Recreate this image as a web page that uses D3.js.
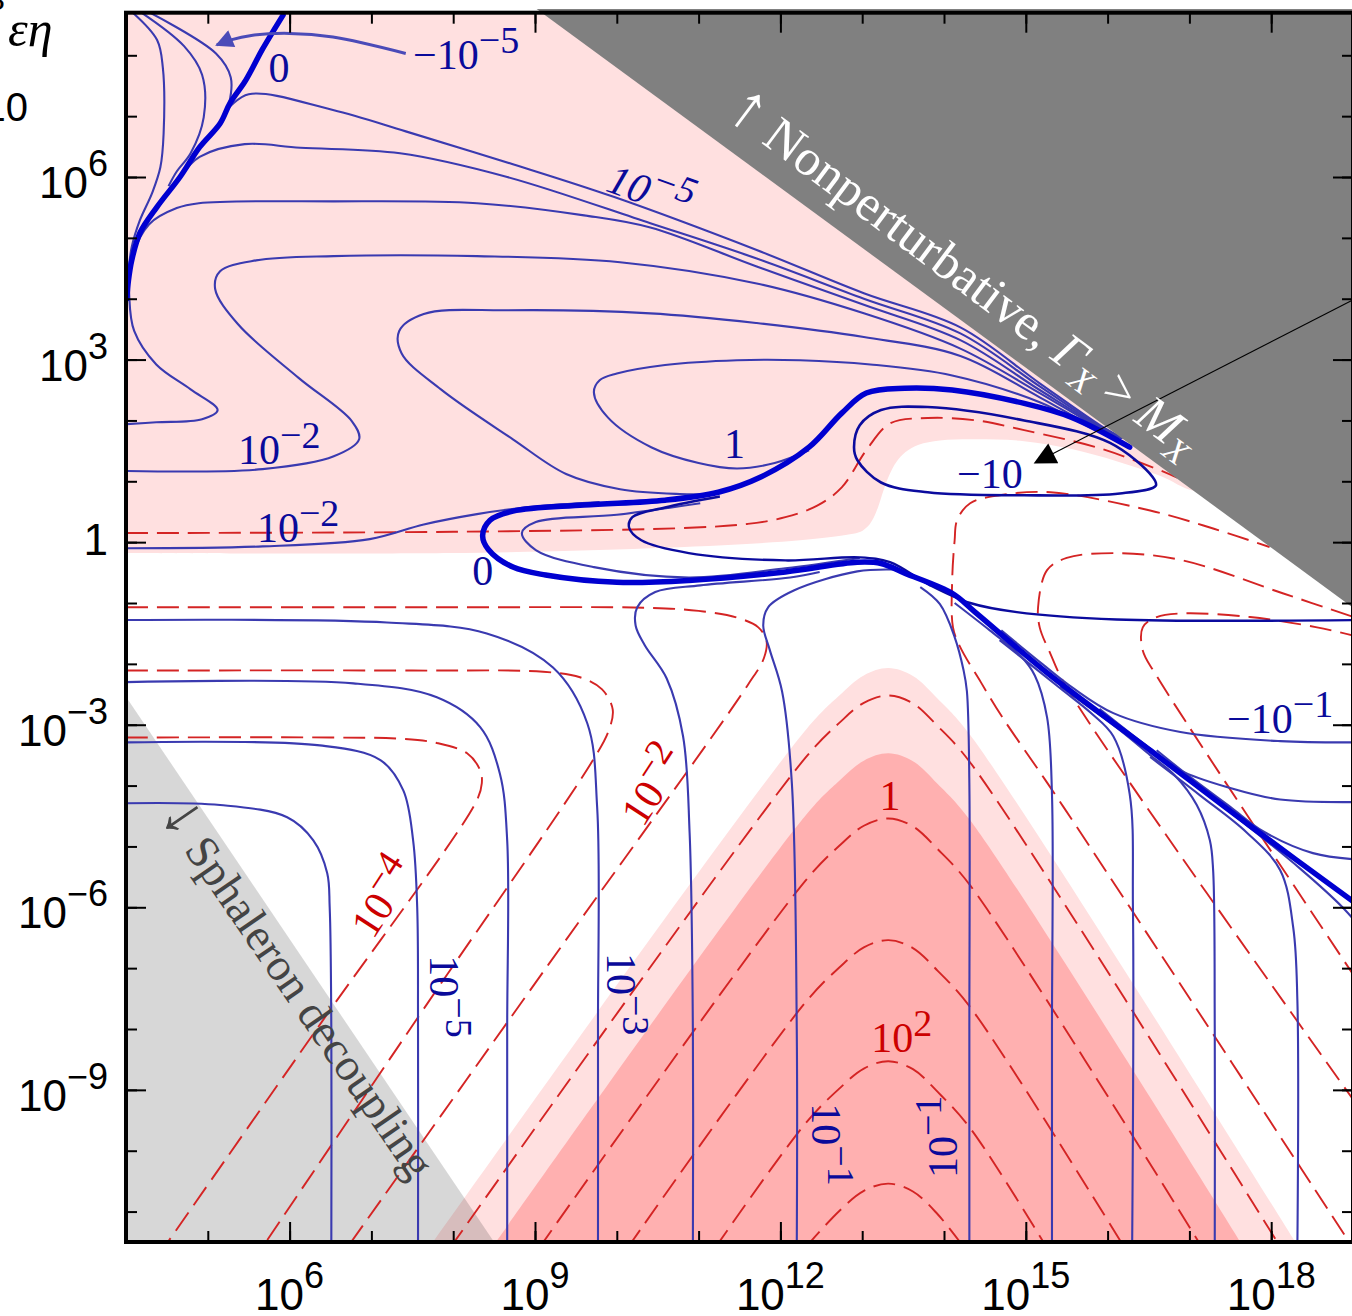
<!DOCTYPE html>
<html><head><meta charset="utf-8">
<script src="https://cdn.jsdelivr.net/npm/d3@7"></script>
<style>body{margin:0;background:#fff} svg{display:block}</style>
</head><body>
<svg id="chart" width="1352" height="1316"></svg>
<script>
// ---------- DATA (x = log10 of abscissa, y = log10 of ordinate) ----------
const X_DOMAIN = [4, 19];
const Y_DOMAIN = [-11.5, 8.7];
const xMajorTicks = [6, 9, 12, 15, 18];
const xMinorTicks = [5,6,7,8,9,10,11,12,13,14,15,16,17,18];
const yMajorTicks = [-9, -6, -3, 0, 3, 6];
const yMinorTicks = [-11,-10,-9,-8,-7,-6,-5,-4,-3,-2,-1,0,1,2,3,4,5,6,7,8];
const xTickLabels = [["10","6"],["10","9"],["10","12"],["10","15"],["10","18"]];
const yTickLabels = [["10","−9"],["10","−6"],["10","−3"],["1",""],["10","3"],["10","6"]];

// shaded regions
const nonpertRegion = [[9.02,8.76],[19.5,8.76],[19.5,-1.57]];
const sphaleronRegion = [[4,-2.54],[8.50,-11.5],[4,-11.5]];
const pinkUpper = [[4,8.8],[12,8.8],[17.6,0.9],[17.07,0.84],[16.64,1.09],[16.11,1.33],[15.56,1.53],[14.98,1.66],[14.39,1.69],[13.95,1.67],[13.69,1.60],[13.53,1.48],[13.42,1.32],[13.33,1.10],[13.26,0.85],[13.20,0.60],[13.14,0.40],[13.07,0.26],[12.98,0.17],[12.85,0.13],[12.24,0.03],[10.41,-0.10],[7.96,-0.18],[4,-0.18]];
const pinkLight = [[7.70,-11.6],[12.32,-3.07],[12.72,-2.52],[13.02,-2.19],[13.32,-2.07],[13.62,-2.20],[13.92,-2.57],[14.32,-3.17],[18.34,-11.6]];
const pinkDark = [[8.47,-11.6],[12.32,-4.47],[12.72,-3.92],[13.02,-3.59],[13.32,-3.47],[13.62,-3.60],[13.92,-3.97],[14.32,-4.57],[17.67,-11.6]];

// red dashed contours
const redR1 = [[4,0.15],[8,0.17],[10.77,0.23],[11.6,0.30],[12.06,0.41],[12.45,0.60],[12.75,0.90],[13.05,1.51],[13.34,1.95],[13.80,2.04],[14.4,2.0],[14.98,1.84],[15.86,1.56],[16.55,1.23],[16.85,1.06]];
const redR2 = [[4,-1.07],[8,-1.07],[10.4,-1.08],[11.0,-1.13],[11.47,-1.24],[11.73,-1.40],[11.83,-1.62],[11.80,-1.90],[11.6,-2.35],[9.17,-6.93],[6.70,-11.6]];
const redR3 = [[4,-2.11],[7.5,-2.11],[9.10,-2.13],[9.55,-2.22],[9.82,-2.42],[9.95,-2.75],[9.90,-3.1],[9.70,-3.6],[7.7,-7.55],[5.66,-11.6]];
const redR4 = [[4,-3.21],[6.5,-3.21],[7.35,-3.23],[7.80,-3.30],[8.17,-3.47],[8.33,-3.75],[8.35,-3.96],[8.29,-4.24],[6.4,-7.87],[4.46,-11.6]];
const redL0 = [[7.96,-11.6],[12.32,-3.52],[12.72,-2.97],[13.02,-2.64],[13.32,-2.52],[13.62,-2.65],[13.92,-3.02],[14.32,-3.62],[18.12,-11.6]];
const redL1 = [[9.05,-11.6],[12.32,-5.54],[12.72,-4.99],[13.02,-4.66],[13.32,-4.54],[13.62,-4.67],[13.92,-5.04],[14.32,-5.64],[17.16,-11.6]];
const redL2 = [[10.13,-11.6],[12.32,-7.54],[12.72,-6.99],[13.02,-6.66],[13.32,-6.54],[13.62,-6.67],[13.92,-7.04],[14.32,-7.64],[16.21,-11.6]];
const redL3 = [[11.20,-11.6],[12.32,-9.53],[12.72,-8.98],[13.02,-8.65],[13.32,-8.53],[13.62,-8.66],[13.92,-9.03],[14.32,-9.63],[15.26,-11.6]];
const redL4 = [[12.30,-11.6],[12.72,-10.99],[13.02,-10.66],[13.32,-10.54],[13.62,-10.67],[13.92,-11.04],[14.25,-11.6]];
const redR6 = [[19.1,-11.8],[16.11,-5.67],[15.30,-4.03],[14.70,-2.85],[14.45,-2.30],[14.20,-1.73],[14.11,-1.40],[14.10,-0.63],[14.13,0.03],[14.16,0.36],[14.32,0.64],[14.68,0.77],[15.30,0.82],[16.52,0.52],[17.3,0.22],[17.98,-0.08]];
const redR7 = [[19.05,-9.25],[15.50,-2.39],[15.30,-1.83],[15.17,-1.40],[15.15,-1.07],[15.26,-0.46],[15.50,-0.26],[16.11,-0.18],[16.92,-0.30],[18.14,-0.84],[19.05,-1.25]];
const redR8 = [[19.05,-7.2],[16.6,-2.2],[16.43,-1.78],[16.43,-1.40],[16.60,-1.23],[16.92,-1.17],[17.74,-1.23],[18.56,-1.40],[19.05,-1.55]];

// blue thin contours
const blueU1 = [[4.09,8.69],[4.38,8.25],[4.45,7.80],[4.46,6.72],[4.42,6.16],[4.32,5.74],[4.17,5.29],[4.07,4.85],[4.03,4.45],[4.02,4.2]];
const blueU2 = [[4.18,8.71],[4.71,8.15],[4.93,7.68],[4.95,6.98],[4.79,6.39],[4.62,6.09],[4.52,5.85]];
const blueU3 = [[4.28,8.71],[5.10,8.03],[5.28,7.64],[5.26,7.21],[5.18,6.95]];
const blueU4 = [[5.23,7.10],[5.50,7.36],[6.53,7.10],[7.42,6.75],[8.73,6.21],[9.97,5.67],[11.71,4.80],[13.02,4.09],[14.20,3.53],[15.17,2.61],[15.91,1.92],[16.18,1.71]];
const blueU5 = [[4.68,6.03],[4.90,6.33],[5.45,6.54],[6.13,6.48],[7.35,6.39],[8.66,6.00],[10.41,5.24],[11.71,4.66],[13.02,4.00],[14.20,3.43],[15.17,2.56],[15.91,1.90],[16.18,1.71]];
const blueCa = [[4.01,1.94],[4.37,1.97],[4.93,2.02],[5.12,2.17],[4.79,2.51],[4.37,2.92],[4.10,3.47],[4.04,4.04],[4.06,4.60],[4.28,5.22],[4.62,5.49],[4.89,5.57],[6.54,5.60],[8.29,5.57],[9.60,5.37],[10.41,5.17],[11.71,4.53],[13.02,3.90],[14.20,3.32],[15.17,2.50],[15.91,1.89],[16.18,1.71]];
const blueCb = [[4.01,1.17],[5.67,1.20],[6.54,1.41],[6.85,1.69],[6.76,1.99],[6.11,2.70],[5.37,3.58],[5.09,4.16],[5.15,4.45],[5.59,4.63],[6.54,4.70],[8.29,4.70],[10.04,4.60],[11.71,4.25],[13.02,3.76],[14.20,3.18],[15.17,2.45],[15.91,1.87],[16.18,1.71]];
const blueCc = [[11.20,0.79],[10.77,0.79],[10.04,0.87],[9.38,1.12],[8.73,1.69],[7.85,2.51],[7.37,3.10],[7.34,3.47],[7.64,3.75],[8.66,3.81],[10.41,3.76],[11.71,3.60],[13.02,3.37],[14.20,3.06],[15.17,2.38],[15.91,1.84],[16.18,1.71]];
const blueL1 = [[12.35,1.51],[11.93,1.30],[11.47,1.21],[11.00,1.30],[10.42,1.56],[9.89,2.05],[9.72,2.46],[9.79,2.66],[10.00,2.77],[10.59,2.91],[11.47,2.99],[12.24,2.99],[13.10,2.92],[14.10,2.74],[15.17,2.30],[15.91,1.81],[16.18,1.71]];
const blueCd = [[4.01,-0.10],[5.67,-0.07],[6.98,0.05],[7.64,0.29],[8.29,0.46],[8.82,0.56],[9.31,0.62],[9.79,0.66]];
const blueCe = [[11.02,0.64],[10.00,0.45],[9.01,0.33],[8.84,0.15],[9.01,-0.13],[9.72,-0.41],[10.88,-0.58],[12.06,-0.43],[12.97,-0.26]];
const blueV1 = [[4.00,-4.29],[5.15,-4.32],[5.97,-4.52],[6.29,-4.90],[6.46,-5.44],[6.49,-6.00],[6.51,-8.0],[6.51,-11.6]];
const blueV2 = [[4.00,-3.29],[6.37,-3.34],[7.11,-3.58],[7.39,-4.08],[7.51,-4.90],[7.56,-6.00],[7.57,-8.0],[7.57,-11.6]];
const blueV3 = [[4.00,-2.30],[6.78,-2.32],[7.80,-2.55],[8.33,-3.04],[8.57,-3.80],[8.66,-4.90],[8.66,-8.0],[8.66,-11.6]];
const blueV4 = [[4.00,-1.28],[7.19,-1.32],[8.41,-1.50],[9.22,-2.06],[9.64,-2.98],[9.76,-4.36],[9.77,-8.0],[9.77,-11.6]];
const blueV5 = [[12.48,-0.49],[12.12,-0.58],[11.02,-0.71],[10.47,-0.82],[10.25,-1.07],[10.23,-1.37],[10.34,-1.69],[10.61,-2.24],[10.81,-3.19],[10.89,-4.77],[10.93,-8.0],[10.93,-11.6]];
const blueV6 = [[13.4,-0.45],[12.94,-0.48],[12.17,-0.79],[11.85,-1.07],[11.79,-1.37],[11.87,-1.77],[12.02,-2.45],[12.14,-3.96],[12.20,-8.0],[12.20,-11.6]];
const blueV7 = [[13.71,-0.74],[13.95,-1.02],[14.13,-1.56],[14.24,-2.11],[14.28,-2.45],[14.31,-3.96],[14.31,-8.0],[14.31,-11.6]];
const blueV8 = [[14.13,-1.00],[14.56,-1.45],[14.93,-1.86],[15.11,-2.19],[15.26,-2.88],[15.32,-4.14],[15.32,-8.0],[15.32,-11.6]];
const blueV9 = [[14.68,-1.61],[15.42,-2.40],[15.79,-2.80],[16.07,-3.19],[16.27,-4.14],[16.31,-6.03],[16.30,-11.6]];
const blueV10 = [[15.42,-2.37],[16.15,-3.09],[16.52,-3.50],[16.82,-3.83],[17.09,-4.32],[17.25,-4.90],[17.29,-5.39],[17.31,-8.0],[17.31,-11.6]];
const blueV11 = [[16.52,-3.53],[17.13,-4.16],[17.70,-4.77],[18.11,-5.39],[18.27,-6.34],[18.32,-7.53],[18.32,-11.6]];
const blueV12 = [[17.37,-4.30],[18.35,-5.36],[18.88,-6.01],[19.1,-6.35]];
const blueN1 = [[19.1,-3.29],[18.11,-3.27],[16.89,-3.12],[16.07,-2.81],[15.58,-2.40],[15.2,-2.0],[14.7,-1.45]];
const blueN2 = [[19.1,-4.27],[18.11,-4.23],[17.50,-4.04],[16.89,-3.75],[16.45,-3.32],[15.9,-2.74]];
const blueN3 = [[19.1,-5.22],[18.51,-5.11],[17.90,-4.75],[17.5,-4.35],[17.0,-3.85],[16.6,-3.42]];
// dark blue contours
const blueLoopM10 = [[12.90,1.56],[12.94,1.35],[13.23,0.98],[13.80,0.82],[14.98,0.77],[16.15,0.80],[16.59,0.93],[16.55,1.07],[16.03,1.63],[14.98,2.00],[13.80,2.22],[13.23,2.17],[12.97,1.92]];
const blueCf = [[11.26,0.75],[10.59,0.57],[10.19,0.41],[10.15,0.24],[10.30,0.03],[10.88,-0.18],[12.06,-0.30],[12.97,-0.25],[13.34,-0.33],[13.83,-0.71],[14.32,-1.00],[14.89,-1.15],[16.11,-1.27],[19.1,-1.28]];
// zero contours (thick)
const zeroZ1 = [[5.92,8.66],[5.66,8.08],[5.55,7.80],[5.45,7.56],[5.27,7.21],[5.15,6.88],[4.90,6.49],[4.66,6.00],[4.38,5.51],[4.17,5.08],[4.07,4.63],[4.03,4.30],[4.01,4.0]];
const zeroZ2 = [[16.27,1.56],[15.56,2.05],[14.98,2.28],[14.10,2.50],[13.52,2.53],[13.05,2.45],[12.75,2.12],[12.35,1.56],[11.76,1.07],[11.24,0.82],[10.59,0.69],[9.60,0.61],[8.73,0.51],[8.45,0.36],[8.36,0.11],[8.43,-0.12],[8.73,-0.41],[9.13,-0.54],[10.00,-0.66],[10.88,-0.63],[12.06,-0.49],[12.94,-0.33],[13.23,-0.35],[13.52,-0.51],[14.10,-0.84],[14.38,-1.15],[15.30,-2.19],[16.52,-3.42],[17.74,-4.66],[19.1,-6.0]];
// arrows
const blueArrowPath = [[7.42,8.03],[6.53,8.30],[6.00,8.36],[5.55,8.33],[5.27,8.25],[5.11,8.17]];
const blackArrowPath = [[19.33,4.21],[15.12,1.31]];

// labels
const blueLabels = [
  {pos:[5.87,7.56], parts:[["0"]], anchor:"middle"},
  {pos:[7.51,7.77], parts:[["−10"],["−5",1]]},
  {pos:[5.37,1.28], parts:[["10"],["−2",1]]},
  {pos:[5.60,0.01], parts:[["10"],["−2",1]]},
  {pos:[11.44,1.38], parts:[["1"]], anchor:"middle"},
  {pos:[8.36,-0.71], parts:[["0"]], anchor:"middle"},
  {pos:[14.16,0.89], parts:[["−10"]]},
  {pos:[17.46,-3.14], parts:[["−10"],["−1",1]]},
  {pos:[9.85,5.78], parts:[["10"],["−5",1]], rot:20, italic:true},
  {pos:[7.72,-6.79], parts:[["10"],["−5",1]], rot:90},
  {pos:[9.88,-6.75], parts:[["10"],["−3",1]], rot:90},
  {pos:[12.39,-9.22], parts:[["10"],["−1",1]], rot:90},
  {pos:[14.16,-10.45], parts:[["10"],["−1",1]], rot:-90}
];
const redLabels = [
  {pos:[7.02,-6.54], parts:[["10"],["−4",1]], rot:-57},
  {pos:[10.32,-4.70], parts:[["10"],["−2",1]], rot:-57},
  {pos:[13.34,-4.40], parts:[["1"]], anchor:"middle"},
  {pos:[13.11,-8.38], parts:[["10"],["2",1]]}
];
const regionLabels = [
  {pos:[4.40,-4.47], arrow:"↓", text:" Sphaleron decoupling", rot:55.5},
  {pos:[11.31,7.02], arrow:"↑", text:" Nonperturbative, ", rot:36.8}
];

// ---------- DRAWING ----------
const svg = d3.select("#chart");
const L = 126, R = 1353, T = 12.7, B = 1242;
const x = d3.scaleLinear().domain(X_DOMAIN).range([L, R]);
const y = d3.scaleLinear().domain(Y_DOMAIN).range([B, T]);
const smooth = d3.line().x(d => x(d[0])).y(d => y(d[1])).curve(d3.curveCatmullRom.alpha(0.5));
const straight = d3.line().x(d => x(d[0])).y(d => y(d[1]));
const closedSmooth = d3.line().x(d => x(d[0])).y(d => y(d[1])).curve(d3.curveCatmullRomClosed.alpha(0.5));

const defs = svg.append("defs");
defs.append("clipPath").attr("id", "plotClip").append("rect").attr("x", L).attr("y", T).attr("width", R - L).attr("height", B - T);
defs.append("clipPath").attr("id", "grayClip").append("rect").attr("x", L).attr("y", 8).attr("width", 1400).attr("height", B - 8);
defs.append("marker").attr("id", "bArrow").attr("viewBox", "0 0 10 10").attr("refX", 9).attr("refY", 5)
  .attr("markerWidth", 32).attr("markerHeight", 18).attr("markerUnits", "userSpaceOnUse").attr("orient", "auto")
  .append("path").attr("d", "M0,0 L10,5 L0,10 z").attr("fill", "#4b4bb8");
defs.append("marker").attr("id", "kArrow").attr("viewBox", "0 0 10 10").attr("refX", 9).attr("refY", 5)
  .attr("markerWidth", 36).attr("markerHeight", 22).attr("markerUnits", "userSpaceOnUse").attr("orient", "auto")
  .append("path").attr("d", "M0,0 L10,5 L0,10 z").attr("fill", "#000");

svg.append("rect").attr("width", 1352).attr("height", 1316).attr("fill", "#fff");
const g = svg.append("g").attr("clip-path", "url(#plotClip)");

g.append("path").attr("d", smooth(pinkUpper) + "Z").attr("fill", "#ffe0e0");
g.append("path").attr("d", smooth(pinkLight) + "Z").attr("fill", "#ffe0e0");
g.append("path").attr("d", smooth(pinkDark) + "Z").attr("fill", "#ffb0b0");
g.append("path").attr("d", straight(sphaleronRegion) + "Z").attr("fill", "#000").attr("fill-opacity", 0.155);

const redCurves = [redR1, redR2, redR3, redR4, redL0, redL1, redL2, redL3, redL4, redR6, redR7, redR8];
g.selectAll("path.red").data(redCurves).join("path").attr("class", "red")
  .attr("d", smooth).attr("fill", "none").attr("stroke", "#d42424").attr("stroke-width", 1.9)
  .attr("stroke-dasharray", "22 9");

const blueThin = [blueU1, blueU2, blueU3, blueU4, blueU5, blueCa, blueCb, blueCc, blueL1, blueCd, blueCe,
  blueV1, blueV2, blueV3, blueV4, blueV5, blueV6, blueV7, blueV8, blueV9, blueV10, blueV11, blueV12, blueN1, blueN2, blueN3];
g.selectAll("path.blue").data(blueThin).join("path").attr("class", "blue")
  .attr("d", smooth).attr("fill", "none").attr("stroke", "#3a3ab0").attr("stroke-width", 2.1);

g.append("path").attr("d", closedSmooth(blueLoopM10)).attr("fill", "none").attr("stroke", "#0b0b9e").attr("stroke-width", 2.6);
g.append("path").attr("d", smooth(blueCf)).attr("fill", "none").attr("stroke", "#0b0b9e").attr("stroke-width", 2.4);

g.selectAll("path.zero").data([zeroZ1, zeroZ2]).join("path").attr("class", "zero")
  .attr("d", smooth).attr("fill", "none").attr("stroke", "#0000d0").attr("stroke-width", 5.5).attr("stroke-linecap", "round");

g.append("path").attr("d", smooth(blueArrowPath)).attr("fill", "none").attr("stroke", "#4b4bb8").attr("stroke-width", 3)
  .attr("marker-end", "url(#bArrow)");

// nonperturbative region (on top of contours)
svg.append("path").attr("clip-path", "url(#grayClip)").attr("d", straight(nonpertRegion) + "Z").attr("fill", "#808080");

// black arrow
svg.append("path").attr("d", straight(blackArrowPath)).attr("fill", "none").attr("stroke", "#000").attr("stroke-width", 1.1)
  .attr("marker-end", "url(#kArrow)");

// ---------- TEXT ----------
const SERIF = "'Liberation Serif','Times New Roman',serif";
const SANS = "'Liberation Sans',Arial,Helvetica,sans-serif";
function contourLabel(d, color) {
  const t = svg.append("text")
    .attr("transform", `translate(${x(d.pos[0])},${y(d.pos[1])}) rotate(${d.rot || 0})`)
    .attr("font-family", SERIF).attr("font-size", 42).attr("fill", color)
    .attr("text-anchor", d.anchor || "start");
  if (d.italic) t.attr("font-style", "italic");
  d.parts.forEach(p => {
    const s = t.append("tspan").text(p[0]);
    if (p[1]) s.attr("font-size", 38).attr("dy", -16);
  });
}
blueLabels.forEach(d => contourLabel(d, "#0a0a9a"));
redLabels.forEach(d => contourLabel(d, "#cc0000"));

{
  const d = regionLabels[0];
  const s = svg.append("text").attr("transform", `translate(${x(d.pos[0])},${y(d.pos[1])}) rotate(${d.rot})`)
    .attr("font-family", SERIF).attr("font-size", 46).attr("fill", "#444");
  s.append("tspan").text(d.arrow).attr("font-size", 64);
  s.append("tspan").text(d.text);
  const e = regionLabels[1];
  const t = svg.append("text").attr("transform", `translate(${x(e.pos[0])},${y(e.pos[1])}) rotate(${e.rot})`)
    .attr("font-family", SERIF).attr("font-size", 51).attr("fill", "#fff");
  t.append("tspan").text(e.arrow).attr("font-size", 66);
  t.append("tspan").text(e.text);
  t.append("tspan").text("Γ").attr("font-style", "italic");
  t.append("tspan").text("X").attr("font-style", "italic").attr("font-size", 35).attr("dy", 10);
  t.append("tspan").text(" > ").attr("dy", -10);
  t.append("tspan").text("M").attr("font-style", "italic");
  t.append("tspan").text("X").attr("font-style", "italic").attr("font-size", 35).attr("dy", 10);
}

// axis title fragments (cropped in the original)
svg.append("text").attr("x", -14).attr("y", 10).attr("font-family", SERIF).attr("font-style", "italic")
  .attr("font-size", 30).attr("fill", "#000").text("B");
svg.append("text").attr("x", 8).attr("y", 46).attr("font-family", SERIF).attr("font-style", "italic")
  .attr("font-size", 50).attr("fill", "#000").text("εη");
svg.append("text").attr("x", 28).attr("y", 121).attr("text-anchor", "end").attr("font-family", SANS)
  .attr("font-size", 40).attr("fill", "#000").text("10");

// ---------- AXES ----------
function styleAxis(sel) {
  sel.select(".domain").remove();
  sel.selectAll(".tick line").attr("stroke", "#000").attr("stroke-width", 2);
  sel.selectAll(".tick text").remove();
}
const axes = svg.append("g");
axes.append("g").attr("transform", `translate(0,${B})`).call(d3.axisBottom(x).tickValues(xMinorTicks).tickSize(-11).tickFormat("")).call(styleAxis);
axes.append("g").attr("transform", `translate(0,${B})`).call(d3.axisBottom(x).tickValues(xMajorTicks).tickSize(-20).tickFormat("")).call(styleAxis);
axes.append("g").attr("transform", `translate(0,${T})`).call(d3.axisTop(x).tickValues(xMinorTicks).tickSize(-11).tickFormat("")).call(styleAxis);
axes.append("g").attr("transform", `translate(0,${T})`).call(d3.axisTop(x).tickValues(xMajorTicks).tickSize(-20).tickFormat("")).call(styleAxis);
axes.append("g").attr("transform", `translate(${L},0)`).call(d3.axisLeft(y).tickValues(yMinorTicks).tickSize(-11).tickFormat("")).call(styleAxis);
axes.append("g").attr("transform", `translate(${L},0)`).call(d3.axisLeft(y).tickValues(yMajorTicks).tickSize(-20).tickFormat("")).call(styleAxis);
axes.append("g").attr("transform", `translate(${R},0)`).call(d3.axisRight(y).tickValues(yMinorTicks).tickSize(-11).tickFormat("")).call(styleAxis);
axes.append("g").attr("transform", `translate(${R},0)`).call(d3.axisRight(y).tickValues(yMajorTicks).tickSize(-20).tickFormat("")).call(styleAxis);

svg.append("rect").attr("x", L).attr("y", T).attr("width", R - L).attr("height", B - T)
  .attr("fill", "none").attr("stroke", "#000").attr("stroke-width", 4);

// tick labels
xMajorTicks.forEach((v, i) => {
  const t = svg.append("text").attr("x", x(v)).attr("y", 1310).attr("text-anchor", "middle")
    .attr("font-family", SANS).attr("font-size", 44).attr("fill", "#000");
  t.append("tspan").text(xTickLabels[i][0]);
  t.append("tspan").text(xTickLabels[i][1]).attr("font-size", 36).attr("dy", -22);
});
yMajorTicks.forEach((v, i) => {
  const lab = yTickLabels[i];
  const t = svg.append("text").attr("x", 108).attr("y", y(v) + (lab[1] ? 21 : 13)).attr("text-anchor", "end")
    .attr("font-family", SANS).attr("font-size", 44).attr("fill", "#000");
  t.append("tspan").text(lab[0]);
  if (lab[1]) t.append("tspan").text(lab[1]).attr("font-size", 36).attr("dy", -22);
});
</script>
</body></html>
